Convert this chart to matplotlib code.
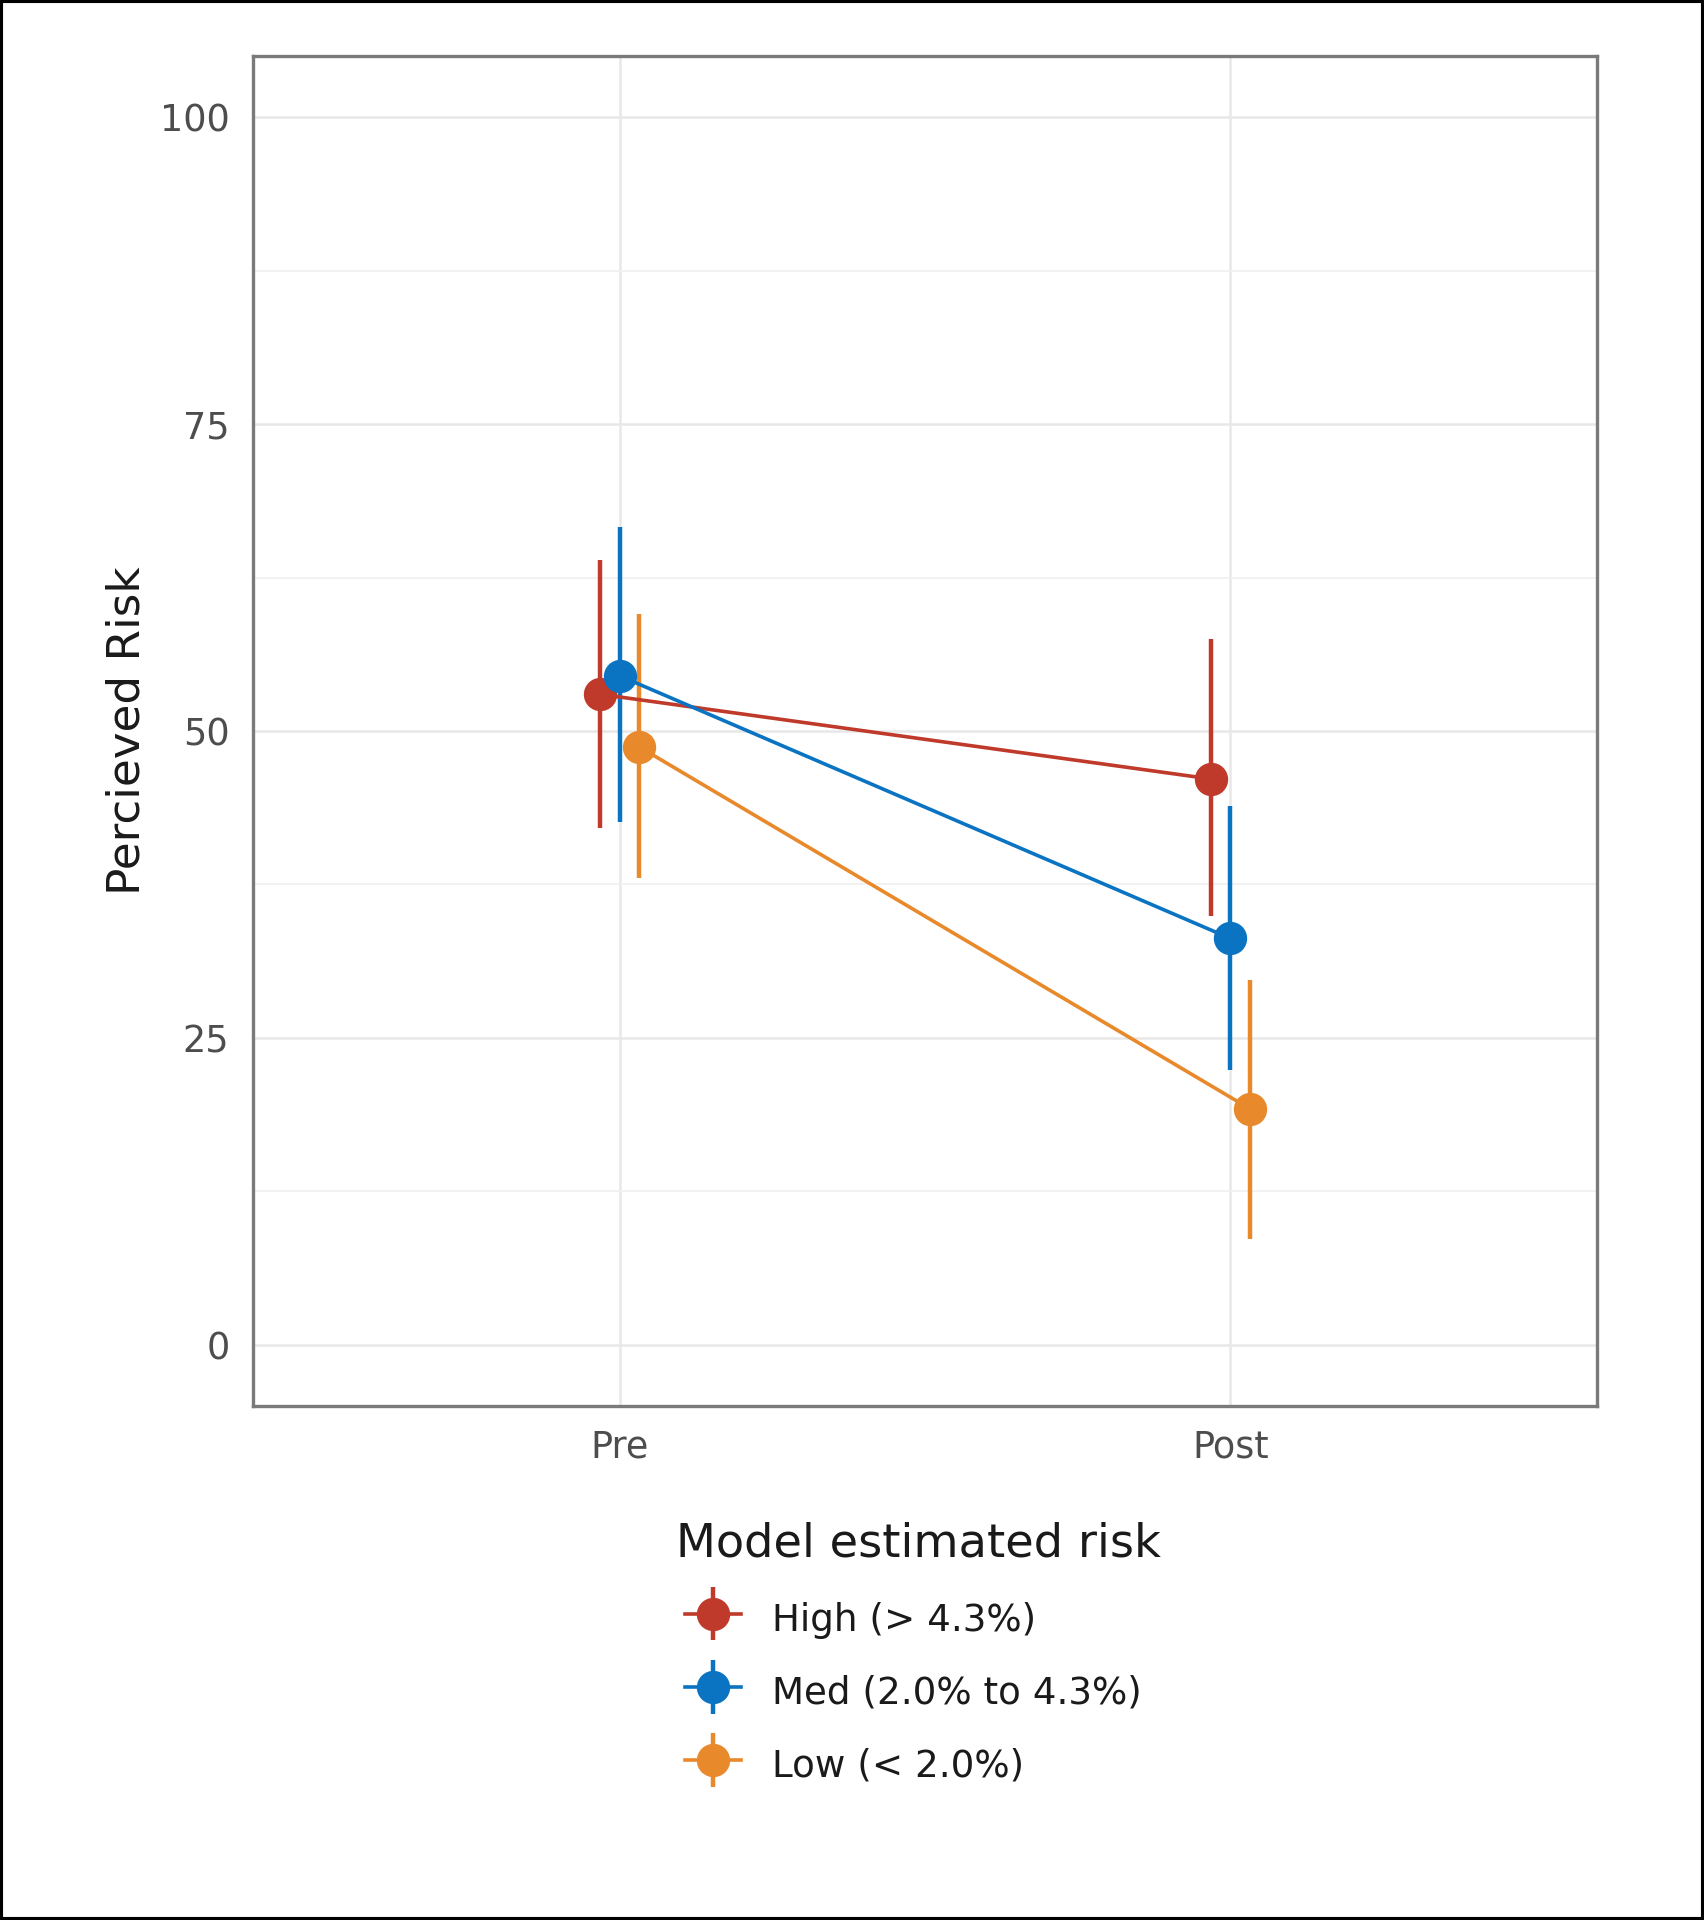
import matplotlib.pyplot as plt
from matplotlib.legend_handler import HandlerErrorbar
from matplotlib.patches import Rectangle
from matplotlib.ticker import MultipleLocator

# data
times = ["Pre", "Post"]
groups = ["High (> 4.3%)", "Med (2.0% to 4.3%)", "Low (< 2.0%)"]
mean_risk = {
    "High (> 4.3%)": [53.0, 46.1],
    "Med (2.0% to 4.3%)": [54.5, 33.1],
    "Low (< 2.0%)": [48.7, 19.2],
}
lower = {
    "High (> 4.3%)": [42.1, 34.9],
    "Med (2.0% to 4.3%)": [42.6, 22.4],
    "Low (< 2.0%)": [38.0, 8.6],
}
upper = {
    "High (> 4.3%)": [63.9, 57.5],
    "Med (2.0% to 4.3%)": [66.6, 43.9],
    "Low (< 2.0%)": [59.5, 29.7],
}
y_ticks = [0, 25, 50, 75, 100]

colors = ["#BF3A2B", "#0A74C2", "#E8892B"]
dodge = [-0.0325, 0.0, 0.0325]

fig = plt.figure(figsize=(8.52, 9.6), dpi=200)
ax = fig.add_axes([0.1485, 0.2677, 0.7887, 0.7031])

for g, col, dx in zip(groups, colors, dodge):
    xs = [i + 1 + dx for i in range(len(times))]
    ys = mean_risk[g]
    yerr = [[m - lo for m, lo in zip(ys, lower[g])],
            [hi - m for m, hi in zip(ys, upper[g])]]
    ax.errorbar(xs, ys, yerr=yerr, fmt="-o", color=col, ecolor=col,
                lw=1.3, elinewidth=1.6, ms=11, capsize=0, label=g, zorder=3)

ax.set_xlim(0.4, 2.6)
ax.set_ylim(-5, 105)
ax.set_xticks([1, 2])
ax.set_xticklabels(times)
ax.set_yticks(y_ticks)
ax.yaxis.set_minor_locator(MultipleLocator(12.5))
ax.grid(True, which="major", color="#e8e8e8", lw=0.9, zorder=0)
ax.grid(True, which="minor", axis="y", color="#f0f0f0", lw=0.6, zorder=0)
ax.set_axisbelow(True)
ax.tick_params(which="both", length=0, labelsize=13.2, colors="#4d4d4d", pad=8.5)
ax.tick_params(axis="x", pad=8)
for s in ax.spines.values():
    s.set_color("#7a7a7a")
    s.set_linewidth(1.2)
ax.set_ylabel("Percieved Risk", fontsize=16.3, color="#1a1a1a", labelpad=4)

handles, labels = ax.get_legend_handles_labels()
# legend keys sit a little to the right of the title, as in the original
leg = fig.legend(handles, labels, title="Model estimated risk", loc="upper left",
                 bbox_to_anchor=(0.397, 0.2075), frameon=False, fontsize=13.4,
                 title_fontsize=16.7, alignment="left", numpoints=1,
                 handlelength=1.73, handleheight=1.4, labelspacing=0.81,
                 handletextpad=0.84, borderaxespad=0, borderpad=0,
                 handler_map={type(handles[0]): HandlerErrorbar(xerr_size=0.72, xpad=0.23)})
for t in leg.get_texts():
    t.set_color("#1a1a1a")
leg.get_title().set_color("#1a1a1a")

fig.patches.append(Rectangle((0, 0), 1, 1, transform=fig.transFigure, fill=False,
                             edgecolor="black", lw=2.2))

fig.savefig("out.png", dpi=200)
